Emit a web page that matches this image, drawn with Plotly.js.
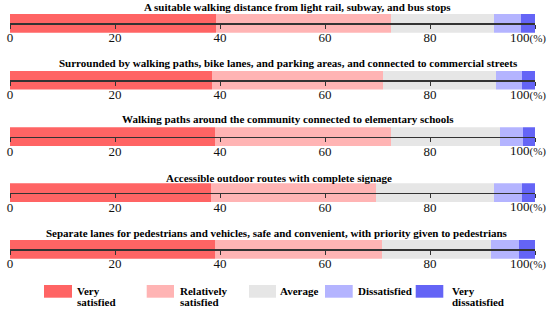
<!DOCTYPE html>
<html><head><meta charset="utf-8">
<script src="https://cdn.plot.ly/plotly-3.0.1.min.js"></script>
<style>html,body{margin:0;padding:0;background:#fff}#chart{width:550px;height:309px}</style>
</head><body><div id="chart"></div>
<script>
const titles = [
  'A suitable walking distance from light rail, subway, and bus stops',
  'Surrounded by walking paths, bike lanes, and parking areas, and connected to commercial streets',
  'Walking paths around the community connected to elementary schools',
  'Accessible outdoor routes with complete signage',
  'Separate lanes for pedestrians and vehicles, safe and convenient, with priority given to pedestrians'
];
const verySatisfied = [39.2, 38.5, 39.1, 38.2, 39.1];
const relativelySatisfied = [33.4, 32.5, 33.4, 31.6, 31.7];
const average = [19.6, 21.5, 20.9, 22.4, 20.9];
const dissatisfied = [5.1, 5.1, 4.4, 5.4, 5.3];
const veryDissatisfied = [2.7, 2.4, 2.2, 2.4, 3.0];
const seriesNames = ['Very satisfied', 'Relatively satisfied', 'Average', 'Dissatisfied', 'Very dissatisfied'];
const legendLines = [['Very','satisfied'], ['Relatively','satisfied'], ['Average'], ['Dissatisfied'], ['Very','dissatisfied']];
const tickVals = [0, 20, 40, 60, 80, 100];
const tickLabels = ['0', '20', '40', '60', '80', ''];
const lastTickLabel = '100<span style="font-size:11px">(%)</span>';

const series = [verySatisfied, relativelySatisfied, average, dissatisfied, veryDissatisfied];
const colors = ['#FF6464', '#FFB4B4', '#E6E6E6', '#B4B4FF', '#6464F6'];
const W = 550, H = 309;
const px = x => x / W, py = y => 1 - y / H;
const axisY = [23.3, 80, 136.7, 192.7, 249.3];
const barHalf = 9.5;
const titleY = [7.5, 63, 118.5, 178, 233];
const titleX = [297, 288, 288, 279, 277];
const serif = 'Liberation Serif, Times New Roman, serif';

const traces = [];
series.forEach((vals, s) => {
  vals.forEach((v, r) => {
    const suf = r ? String(r + 1) : '';
    traces.push({
      type: 'bar', orientation: 'h', x: [v], y: [0], width: 1,
      xaxis: 'x' + suf, yaxis: 'y' + suf,
      marker: {color: colors[s], line: {width: 0}},
      name: seriesNames[s], showlegend: false, hoverinfo: 'skip'
    });
  });
});

const layout = {
  width: W, height: H, margin: {l: 0, r: 0, t: 0, b: 0},
  paper_bgcolor: '#fff', plot_bgcolor: 'rgba(0,0,0,0)',
  barmode: 'stack', bargap: 0, showlegend: false,
  annotations: [], shapes: []
};
titles.forEach((t, r) => {
  const suf = r ? String(r + 1) : '';
  layout['xaxis' + suf] = {
    domain: [px(10), px(535)], range: [0, 100], anchor: 'free', position: py(axisY[r]),
    tickmode: 'array', tickvals: tickVals, ticktext: tickLabels,
    ticks: 'outside', ticklen: 4, tickwidth: 1, tickcolor: '#333',
    ticklabelstandoff: -2,
    showline: true, linecolor: '#333', linewidth: 1.5,
    showgrid: false, zeroline: false, fixedrange: true,
    tickfont: {family: serif, size: 13, color: '#111'}
  };
  layout['yaxis' + suf] = {
    domain: [py(axisY[r] + barHalf), py(axisY[r] - barHalf)], range: [-0.5, 0.5],
    visible: false, anchor: 'x' + suf, fixedrange: true
  };
  layout.annotations.push({
    text: '<b>' + t + '</b>', xref: 'paper', yref: 'paper',
    x: px(titleX[r]), y: py(titleY[r]), xanchor: 'center', yanchor: 'middle',
    showarrow: false, font: {family: serif, size: 11, color: '#000'}
  });
  layout.annotations.push({
    text: lastTickLabel, xref: 'x' + suf, yref: 'paper', x: 100, xshift: -7,
    y: py(axisY[r] + 14.2), xanchor: 'center', yanchor: 'middle',
    showarrow: false, font: {family: serif, size: 13, color: '#111'}
  });
});

const swX = [[44, 72], [146.7, 174], [249, 276], [325, 352.7], [415.7, 443.3]];
const txX = [75, 178, 278, 356, 450];
seriesNames.forEach((n, i) => {
  layout.shapes.push({
    type: 'rect', xref: 'paper', yref: 'paper',
    x0: px(swX[i][0]), x1: px(swX[i][1]), y0: py(297.7), y1: py(285),
    fillcolor: colors[i], line: {width: 0}
  });
  legendLines[i].forEach((ln, k) => {
    layout.annotations.push({
      text: '<b>' + ln + '</b>', xref: 'paper', yref: 'paper',
      x: px(txX[i]), y: py(290.7 + 11 * k), xanchor: 'left', yanchor: 'middle',
      showarrow: false, font: {family: serif, size: 11, color: '#000'}
    });
  });
});

Plotly.newPlot('chart', traces, layout, {staticPlot: true, displayModeBar: false});
</script></body></html>
